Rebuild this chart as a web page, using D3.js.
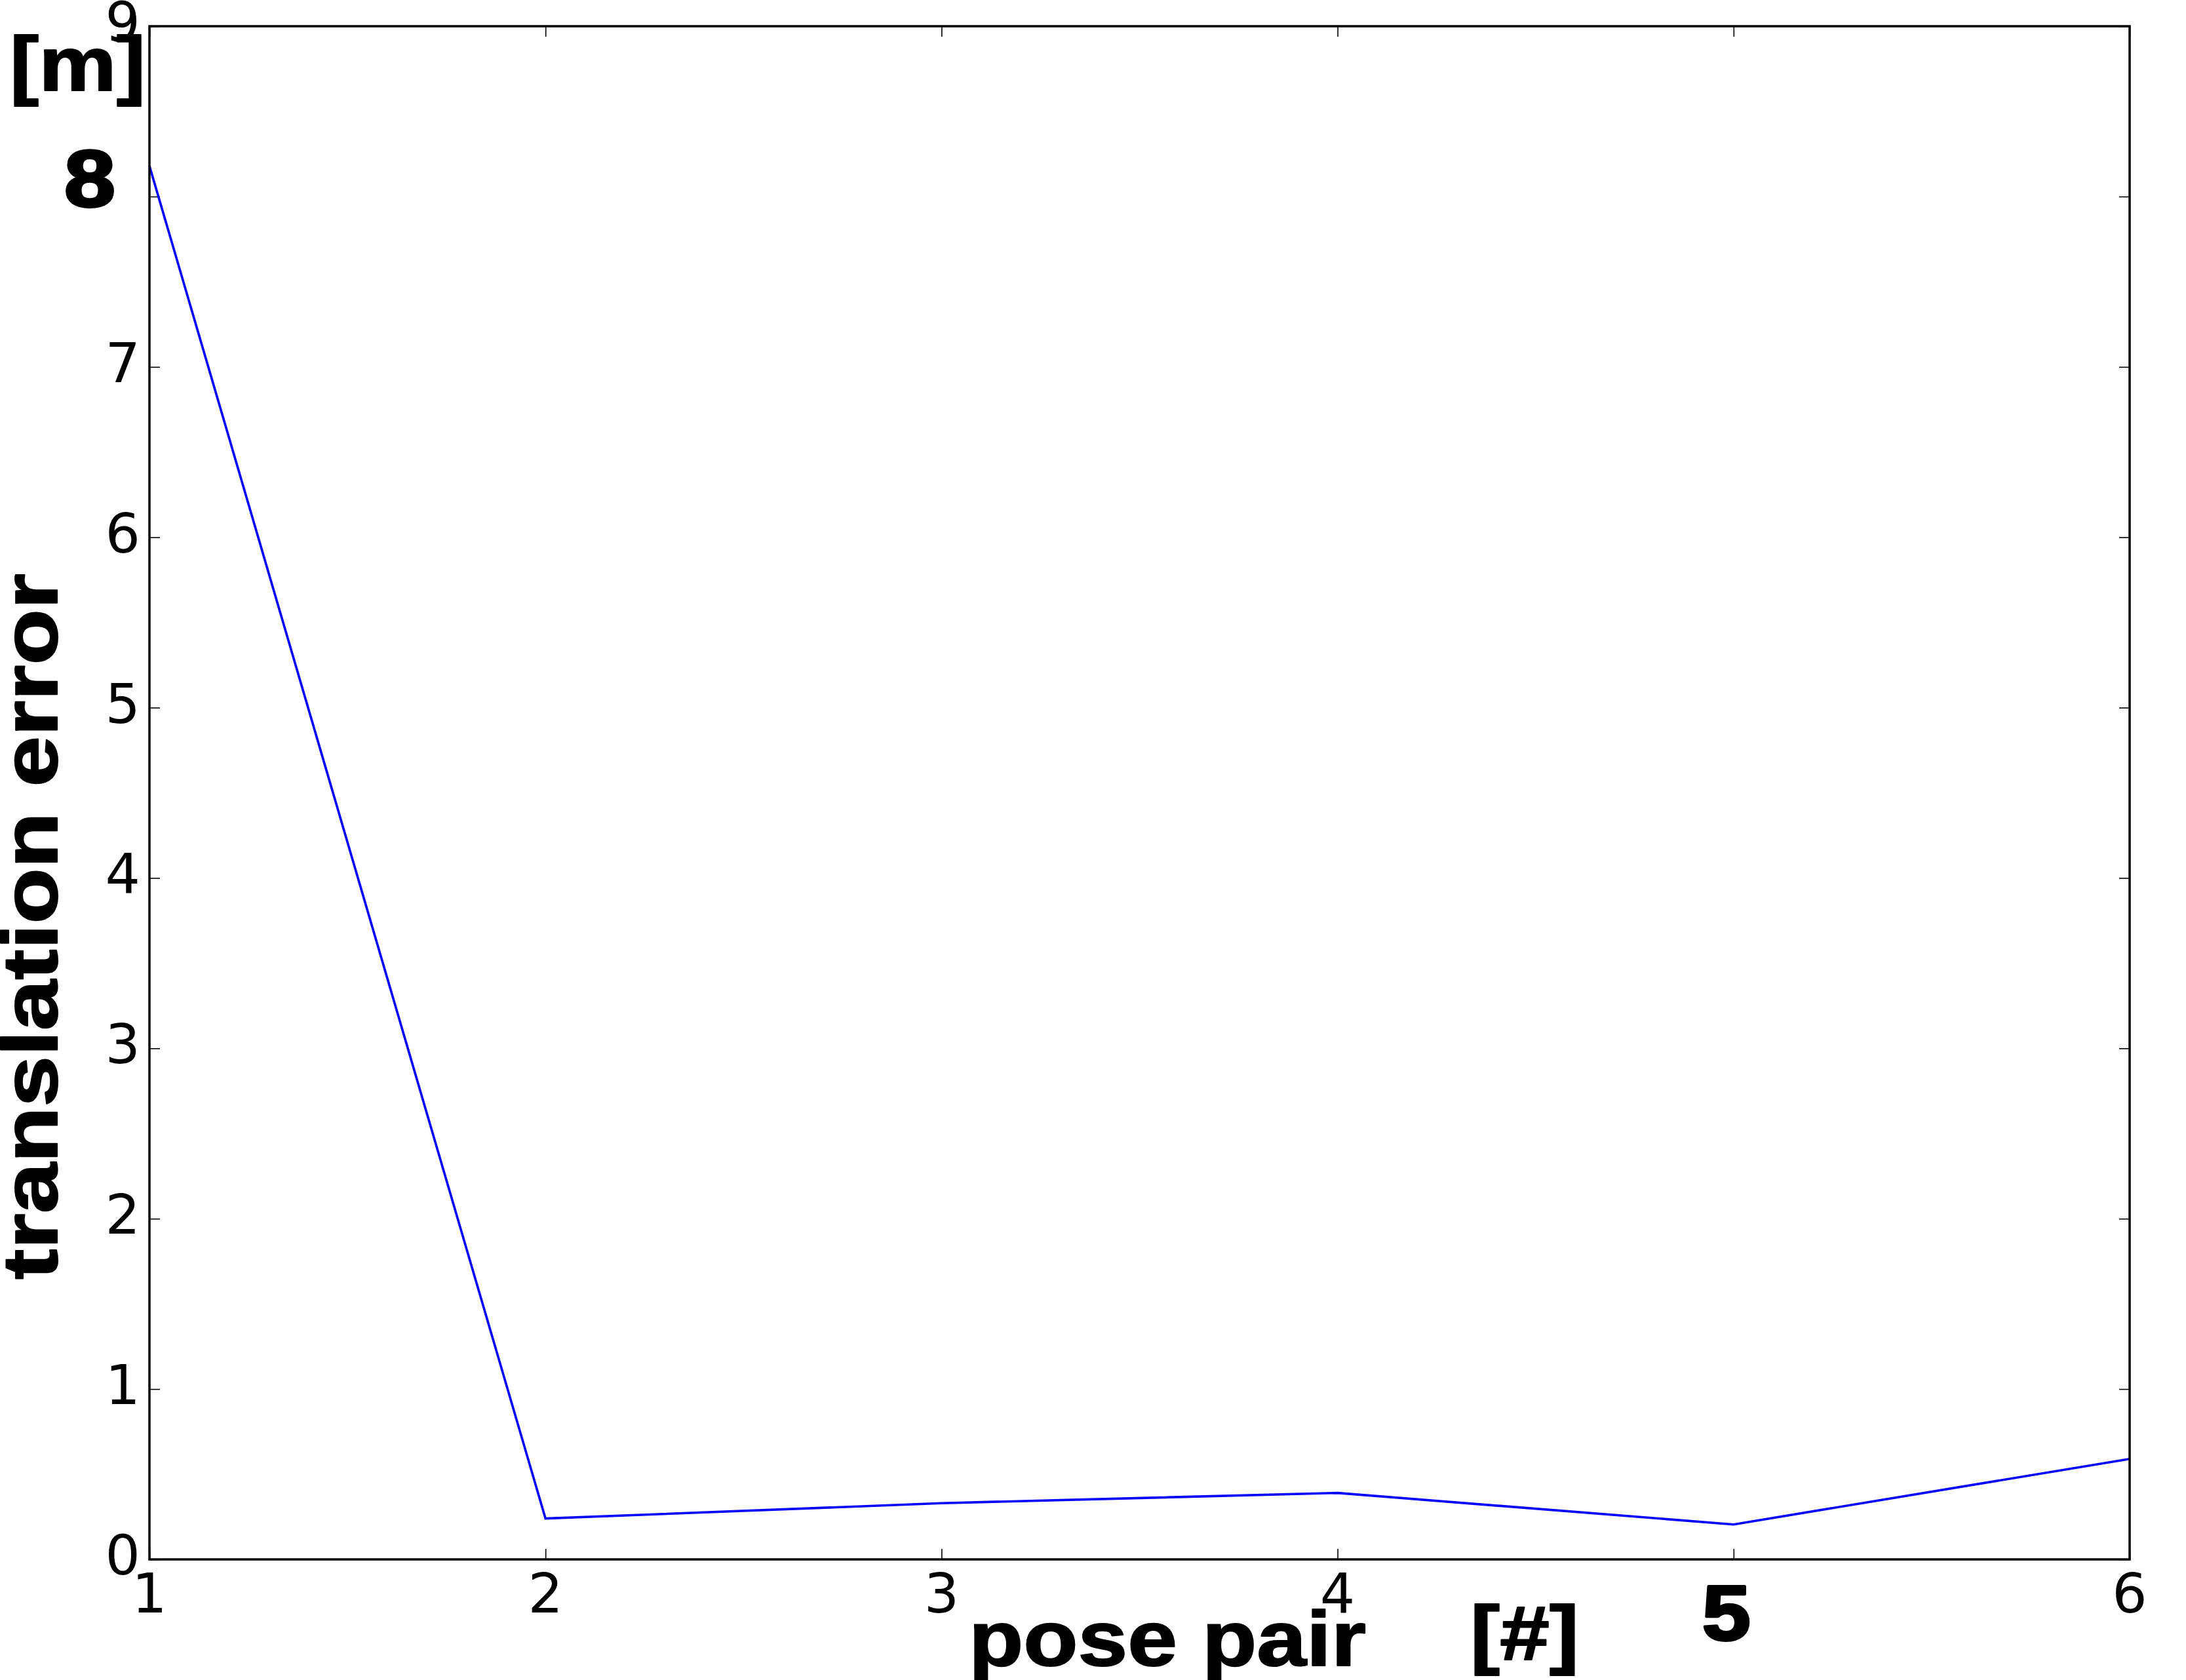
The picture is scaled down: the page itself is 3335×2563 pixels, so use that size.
<!DOCTYPE html>
<html><head><meta charset="utf-8">
<script src="https://cdn.jsdelivr.net/npm/d3@7"></script>
<style>html,body{margin:0;padding:0;background:#fff;}svg{display:block;}</style>
</head><body>
<svg id="chart" width="3335" height="2563"></svg>
<script>
const poses = [1, 2, 3, 4, 5, 6];
const errors = [8.18, 0.24, 0.33, 0.39, 0.205, 0.59];
const xTicks = [1, 2, 3, 4, 5, 6];
const yTicks = [0, 1, 2, 3, 4, 5, 6, 7, 8, 9];
const boldXTick = 5;
const boldYTick = 8;
const xLabel = "pose pair";
const xUnit = "[#]";
const yLabel = "translation error";
const yUnit = "[m]";

const W = 3335, H = 2563;
const m = {left: 228, right: 3249, top: 40, bottom: 2379};
const svg = d3.select("#chart");
svg.append("rect").attr("width", W).attr("height", H).attr("fill", "#fff");

const x = d3.scaleLinear().domain([1, 6]).range([m.left, m.right]);
const y = d3.scaleLinear().domain([0, 9]).range([m.bottom, m.top]);

const tickFont = "DejaVu Sans";
const boldFont = "Liberation Sans, Arial, sans-serif";

function tickLines(axis, pos) {
  const g = svg.append("g").attr("transform", pos).call(axis);
  g.select(".domain").remove();
  g.selectAll(".tick line").attr("stroke", "#000").attr("stroke-width", 1.6);
  g.selectAll(".tick text").remove();
  return g;
}
tickLines(d3.axisBottom(x).tickValues(xTicks).tickSizeInner(-16).tickSizeOuter(0), `translate(0,${m.bottom})`);
tickLines(d3.axisTop(x).tickValues(xTicks).tickSizeInner(-16).tickSizeOuter(0), `translate(0,${m.top})`);
tickLines(d3.axisLeft(y).tickValues(yTicks).tickSizeInner(-16).tickSizeOuter(0), `translate(${m.left},0)`);
tickLines(d3.axisRight(y).tickValues(yTicks).tickSizeInner(-16).tickSizeOuter(0), `translate(${m.right},0)`);

svg.append("g").selectAll("text").data(xTicks.filter(d => d !== boldXTick)).join("text")
  .attr("x", d => x(d)).attr("y", m.bottom + 81)
  .attr("text-anchor", "middle").attr("font-family", tickFont).attr("font-size", 84)
  .text(d => d);
svg.append("g").selectAll("text").data(yTicks.filter(d => d !== boldYTick)).join("text")
  .attr("x", m.left - 14).attr("y", d => y(d) + 23)
  .attr("text-anchor", "end").attr("font-family", tickFont).attr("font-size", 84)
  .text(d => d);

function boldText(sel, sw) {
  return sel.attr("font-family", boldFont).attr("font-weight", "bold")
    .attr("fill", "#000").attr("stroke", "#000").attr("stroke-width", sw)
    .attr("stroke-linejoin", "round").attr("lengthAdjust", "spacingAndGlyphs");
}

boldText(svg.append("text"), 4).attr("x", x(boldXTick) - 11).attr("y", m.bottom + 123)
  .attr("text-anchor", "middle").attr("font-size", 118).attr("textLength", 74)
  .text(boldXTick);
boldText(svg.append("text"), 4).attr("x", 137).attr("y", y(boldYTick) + 15)
  .attr("text-anchor", "middle").attr("font-size", 122).attr("textLength", 78)
  .text(boldYTick);

const line = d3.line().x((d, i) => x(poses[i])).y(d => y(d));
svg.append("path").datum(errors).attr("d", line)
  .attr("fill", "none").attr("stroke", "#0000ff").attr("stroke-width", 3.6)
  .attr("stroke-linejoin", "miter");

svg.append("rect").attr("x", m.left).attr("y", m.top)
  .attr("width", m.right - m.left).attr("height", m.bottom - m.top)
  .attr("fill", "none").attr("stroke", "#000").attr("stroke-width", 3.5);

boldText(svg.append("text"), 2).attr("x", 1478).attr("y", 2541)
  .attr("font-size", 119).attr("textLength", 606).text(xLabel);
boldText(svg.append("text"), 2).attr("x", 2243).attr("y", 2532)
  .attr("font-size", 117).attr("textLength", 166).text(xUnit);
boldText(svg.append("text"), 2).attr("transform", "translate(87,1952) rotate(-90)")
  .attr("font-size", 119).attr("textLength", 1077).text(yLabel);
boldText(svg.append("text"), 2).attr("x", 15).attr("y", 138)
  .attr("font-size", 117).attr("textLength", 207).text(yUnit);
</script>
</body></html>
